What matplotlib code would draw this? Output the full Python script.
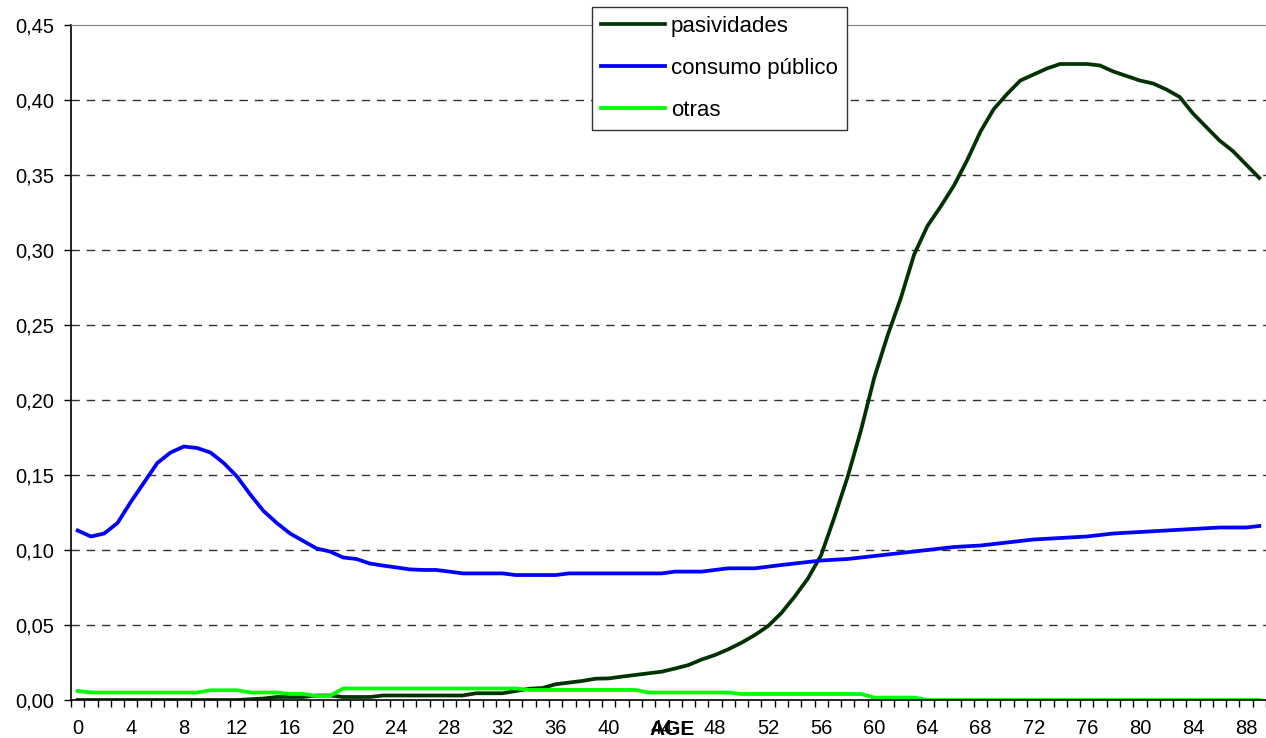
import matplotlib.pyplot as plt
from matplotlib.ticker import FixedLocator, FuncFormatter

plt.rcParams['font.family'] = ['Liberation Sans', 'DejaVu Sans']

age = list(range(90))

pasividades = [
    0.0, 0.0, 0.0, 0.0, 0.0, 0.0, 0.0, 0.0, 0.0, 0.0,
    0.0, 0.0, 0.0, 0.0005, 0.001, 0.002, 0.002, 0.002, 0.003, 0.003,
    0.002, 0.002, 0.002, 0.003, 0.003, 0.003, 0.003, 0.003, 0.003, 0.003,
    0.0045, 0.0045, 0.0045, 0.006, 0.0075, 0.008, 0.0105, 0.0116, 0.0127, 0.0142,
    0.0144, 0.0156, 0.0167, 0.0178, 0.0189, 0.021, 0.0233, 0.027, 0.030, 0.0338,
    0.0382, 0.0433, 0.0493, 0.058, 0.0689, 0.081, 0.0967, 0.122, 0.149, 0.18,
    0.215, 0.243, 0.268, 0.297, 0.316, 0.329, 0.343, 0.36, 0.379, 0.394,
    0.404, 0.413, 0.417, 0.421, 0.424, 0.424, 0.424, 0.423, 0.419, 0.416,
    0.413, 0.411, 0.407, 0.402, 0.391, 0.382, 0.373, 0.366, 0.357, 0.348,
]

consumo_publico = [
    0.113, 0.109, 0.111, 0.118, 0.132, 0.145, 0.158, 0.165, 0.169, 0.168,
    0.165, 0.158, 0.149, 0.137, 0.126, 0.118, 0.111, 0.106, 0.101, 0.099,
    0.095, 0.094, 0.091, 0.0896, 0.0884, 0.0871, 0.0867, 0.0867, 0.0856, 0.0844,
    0.0844, 0.0844, 0.0844, 0.0833, 0.0833, 0.0833, 0.0833, 0.0844, 0.0844, 0.0844,
    0.0844, 0.0844, 0.0844, 0.0844, 0.0844, 0.0856, 0.0856, 0.0856, 0.0867, 0.0878,
    0.0878, 0.0878, 0.0889, 0.090, 0.091, 0.092, 0.093, 0.0935, 0.094, 0.095,
    0.096, 0.097, 0.098, 0.099, 0.100, 0.101, 0.102, 0.1025, 0.103, 0.104,
    0.105, 0.106, 0.107, 0.1075, 0.108, 0.1085, 0.109, 0.110, 0.111, 0.1115,
    0.112, 0.1125, 0.113, 0.1135, 0.114, 0.1145, 0.115, 0.115, 0.115, 0.116,
]

otras = [
    0.006, 0.005, 0.005, 0.005, 0.005, 0.005, 0.005, 0.005, 0.005, 0.005,
    0.0065, 0.0065, 0.0065, 0.005, 0.005, 0.005, 0.004, 0.004, 0.0027, 0.0027,
    0.0077, 0.0077, 0.0077, 0.0077, 0.0077, 0.0077, 0.0077, 0.0077, 0.0077, 0.0077,
    0.0077, 0.0077, 0.0077, 0.0077, 0.0067, 0.0067, 0.0067, 0.0067, 0.0067, 0.0067,
    0.0067, 0.0067, 0.0067, 0.005, 0.005, 0.005, 0.005, 0.005, 0.005, 0.005,
    0.004, 0.004, 0.004, 0.004, 0.004, 0.004, 0.004, 0.004, 0.004, 0.004,
    0.0016, 0.0016, 0.0016, 0.0016, 0.0, 0.0, 0.0, 0.0, 0.0, 0.0,
    0.0, 0.0, 0.0, 0.0, 0.0, 0.0, 0.0, 0.0, 0.0, 0.0,
    0.0, 0.0, 0.0, 0.0, 0.0, 0.0, 0.0, 0.0, 0.0, 0.0,
]

fig = plt.figure(figsize=(12.66, 7.38), dpi=100)
ax = fig.add_axes([71 / 1266, 38 / 738, 1195 / 1266, 675 / 738])

ax.plot(age, pasividades, color='#003300', lw=2.7, label='pasividades')
ax.plot(age, consumo_publico, color='#0000FF', lw=2.7, label='consumo público')
ax.plot(age, otras, color='#00FF00', lw=2.7, label='otras')

ax.set_xlim(-0.5, 89.5)
ax.set_ylim(0, 0.45)

# y axis
yt = [0.0, 0.05, 0.10, 0.15, 0.20, 0.25, 0.30, 0.35, 0.40, 0.45]
ax.set_yticks(yt)
ax.yaxis.set_major_formatter(FuncFormatter(lambda v, p: f'{v:.2f}'.replace('.', ',')))
ax.tick_params(axis='y', direction='out', length=5, width=1, pad=7, labelsize=14.5)
for y in yt[1:-1]:
    ax.axhline(y, color='#333333', lw=1, ls=(0, (6, 5)), zorder=0)

# x axis: labels every 4, tick marks between categories
ax.set_xticks(list(range(0, 89, 4)))
ax.xaxis.set_minor_locator(FixedLocator([i - 0.5 for i in range(91)]))
ax.tick_params(axis='x', which='major', length=0, pad=13.5, labelsize=14.5)
ax.tick_params(axis='x', which='minor', direction='out', length=5, width=1)

ax.spines['right'].set_visible(False)
ax.spines['top'].set_color('#808080')
ax.spines['left'].set_linewidth(1.2)
ax.spines['bottom'].set_linewidth(1.2)

ax.set_xlabel('AGE', fontsize=15, fontweight='bold')
ax.xaxis.label.set_va('center')
ax.xaxis.set_label_coords(0.503, -0.043)

leg = ax.legend(loc='upper left', bbox_to_anchor=(592 / 1266, 731 / 738),
                bbox_transform=fig.transFigure, borderaxespad=0,
                fontsize=16, handlelength=2.9, handletextpad=0.25,
                labelspacing=0.95, borderpad=0.4, fancybox=False,
                framealpha=1, edgecolor='#333333')
leg.get_frame().set_linewidth(1)

fig.savefig('out.png', dpi=100)
